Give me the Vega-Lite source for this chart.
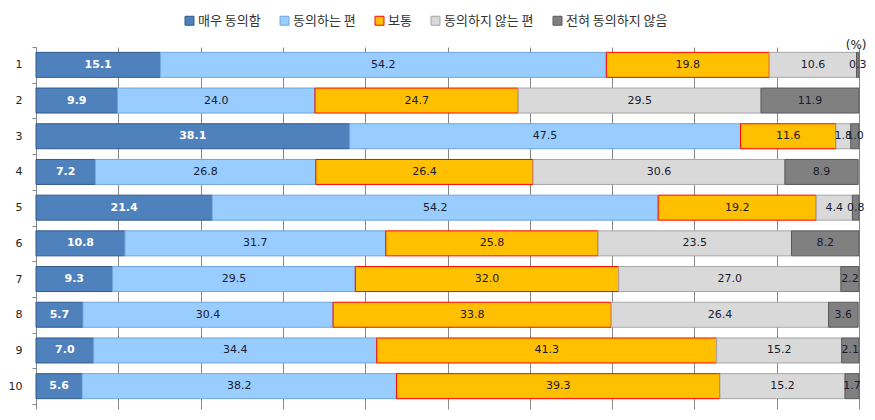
{
  "$schema": "https://vega.github.io/schema/vega-lite/v6.json",
  "autosize": "none",
  "width": 823,
  "height": 357,
  "padding": {"left": 36, "top": 47, "right": 16, "bottom": 16},
  "background": "white",
  "title": {"text": "(%)", "anchor": "end", "orient": "top", "offset": -38, "fontSize": 12, "fontWeight": "normal", "font": "DejaVu Sans", "color": "#222"},
  "config": {"view": {"stroke": null}},
  "data": {"values": [
    {"row":"1","cat":"매우 동의함","k":0,"v":15.1},{"row":"1","cat":"동의하는 편","k":1,"v":54.2},{"row":"1","cat":"보통","k":2,"v":19.8},{"row":"1","cat":"동의하지 않는 편","k":3,"v":10.6},{"row":"1","cat":"전혀 동의하지 않음","k":4,"v":0.3},
    {"row":"2","cat":"매우 동의함","k":0,"v":9.9},{"row":"2","cat":"동의하는 편","k":1,"v":24.0},{"row":"2","cat":"보통","k":2,"v":24.7},{"row":"2","cat":"동의하지 않는 편","k":3,"v":29.5},{"row":"2","cat":"전혀 동의하지 않음","k":4,"v":11.9},
    {"row":"3","cat":"매우 동의함","k":0,"v":38.1},{"row":"3","cat":"동의하는 편","k":1,"v":47.5},{"row":"3","cat":"보통","k":2,"v":11.6},{"row":"3","cat":"동의하지 않는 편","k":3,"v":1.8},{"row":"3","cat":"전혀 동의하지 않음","k":4,"v":1.0},
    {"row":"4","cat":"매우 동의함","k":0,"v":7.2},{"row":"4","cat":"동의하는 편","k":1,"v":26.8},{"row":"4","cat":"보통","k":2,"v":26.4},{"row":"4","cat":"동의하지 않는 편","k":3,"v":30.6},{"row":"4","cat":"전혀 동의하지 않음","k":4,"v":8.9},
    {"row":"5","cat":"매우 동의함","k":0,"v":21.4},{"row":"5","cat":"동의하는 편","k":1,"v":54.2},{"row":"5","cat":"보통","k":2,"v":19.2},{"row":"5","cat":"동의하지 않는 편","k":3,"v":4.4},{"row":"5","cat":"전혀 동의하지 않음","k":4,"v":0.8},
    {"row":"6","cat":"매우 동의함","k":0,"v":10.8},{"row":"6","cat":"동의하는 편","k":1,"v":31.7},{"row":"6","cat":"보통","k":2,"v":25.8},{"row":"6","cat":"동의하지 않는 편","k":3,"v":23.5},{"row":"6","cat":"전혀 동의하지 않음","k":4,"v":8.2},
    {"row":"7","cat":"매우 동의함","k":0,"v":9.3},{"row":"7","cat":"동의하는 편","k":1,"v":29.5},{"row":"7","cat":"보통","k":2,"v":32.0},{"row":"7","cat":"동의하지 않는 편","k":3,"v":27.0},{"row":"7","cat":"전혀 동의하지 않음","k":4,"v":2.2},
    {"row":"8","cat":"매우 동의함","k":0,"v":5.7},{"row":"8","cat":"동의하는 편","k":1,"v":30.4},{"row":"8","cat":"보통","k":2,"v":33.8},{"row":"8","cat":"동의하지 않는 편","k":3,"v":26.4},{"row":"8","cat":"전혀 동의하지 않음","k":4,"v":3.6},
    {"row":"9","cat":"매우 동의함","k":0,"v":7.0},{"row":"9","cat":"동의하는 편","k":1,"v":34.4},{"row":"9","cat":"보통","k":2,"v":41.3},{"row":"9","cat":"동의하지 않는 편","k":3,"v":15.2},{"row":"9","cat":"전혀 동의하지 않음","k":4,"v":2.1},
    {"row":"10","cat":"매우 동의함","k":0,"v":5.6},{"row":"10","cat":"동의하는 편","k":1,"v":38.2},{"row":"10","cat":"보통","k":2,"v":39.3},{"row":"10","cat":"동의하지 않는 편","k":3,"v":15.2},{"row":"10","cat":"전혀 동의하지 않음","k":4,"v":1.7}
  ]},
  "transform": [
    {"stack": "v", "groupby": ["row"], "sort": [{"field": "k", "order": "ascending"}], "as": ["v0", "v1"]},
    {"calculate": "(datum.v0 + datum.v1) / 2", "as": "mid"}
  ],
  "encoding": {
    "y": {
      "field": "row", "type": "nominal",
      "sort": ["1","2","3","4","5","6","7","8","9","10"],
      "scale": {"paddingInner": 0, "paddingOuter": 0},
      "axis": {"title": null, "labelAngle": 0, "labelFont": "DejaVu Sans", "labelFontSize": 11, "labelColor": "#222", "labelPadding": 10, "tickBand": "extent", "tickSize": 4, "tickColor": "#888", "domainColor": "#888", "grid": false}
    }
  },
  "layer": [
    {
      "mark": {"type": "bar", "strokeWidth": 1, "height": {"band": 0.7}},
      "encoding": {
        "x": {"field": "v0", "type": "quantitative", "scale": {"domain": [0, 100], "nice": false},
          "axis": {"title": null, "labels": false, "domain": false, "ticks": true, "tickSize": 5, "tickColor": "#888", "grid": true, "gridColor": "#888", "gridOpacity": 1, "values": [0,10,20,30,40,50,60,70,80,90,100]}},
        "x2": {"field": "v1"},
        "fill": {
          "field": "cat", "type": "nominal",
          "scale": {"domain": ["매우 동의함","동의하는 편","보통","동의하지 않는 편","전혀 동의하지 않음"], "range": ["#4f81bd","#99ccff","#ffc000","#d9d9d9","#808080"]},
          "legend": {"title": null, "orient": "none", "legendX": 147, "legendY": -33, "direction": "horizontal", "symbolType": "square", "symbolSize": 80, "symbolStrokeWidth": 1, "labelFont": "Noto Sans CJK KR", "labelFontSize": 13, "labelColor": "#333", "labelOffset": 2, "columnPadding": 17}
        },
        "stroke": {
          "field": "cat", "type": "nominal",
          "scale": {"domain": ["매우 동의함","동의하는 편","보통","동의하지 않는 편","전혀 동의하지 않음"], "range": ["#2f5a8c","#6fa6dc","#ff0000","#a6a6a6","#595959"]},
          "legend": {"title": null, "orient": "none", "legendX": 147, "legendY": -33, "direction": "horizontal", "symbolType": "square", "symbolSize": 80, "symbolStrokeWidth": 1, "labelFont": "Noto Sans CJK KR", "labelFontSize": 13, "labelColor": "#333", "labelOffset": 2, "columnPadding": 17}
        }
      }
    },
    {
      "transform": [{"filter": "datum.k === 0"}],
      "mark": {"type": "text", "font": "DejaVu Sans", "fontSize": 11, "fontWeight": "bold", "align": "center", "baseline": "middle", "color": "white"},
      "encoding": {
        "x": {"field": "mid", "type": "quantitative"},
        "text": {"field": "v", "type": "quantitative", "format": ".1f"}
      }
    },
    {
      "transform": [{"filter": "datum.k > 0"}],
      "mark": {"type": "text", "font": "DejaVu Sans", "fontSize": 11, "fontWeight": "normal", "align": "center", "baseline": "middle", "color": "#1a1a30"},
      "encoding": {
        "x": {"field": "mid", "type": "quantitative"},
        "text": {"field": "v", "type": "quantitative", "format": ".1f"}
      }
    }
  ]
}
